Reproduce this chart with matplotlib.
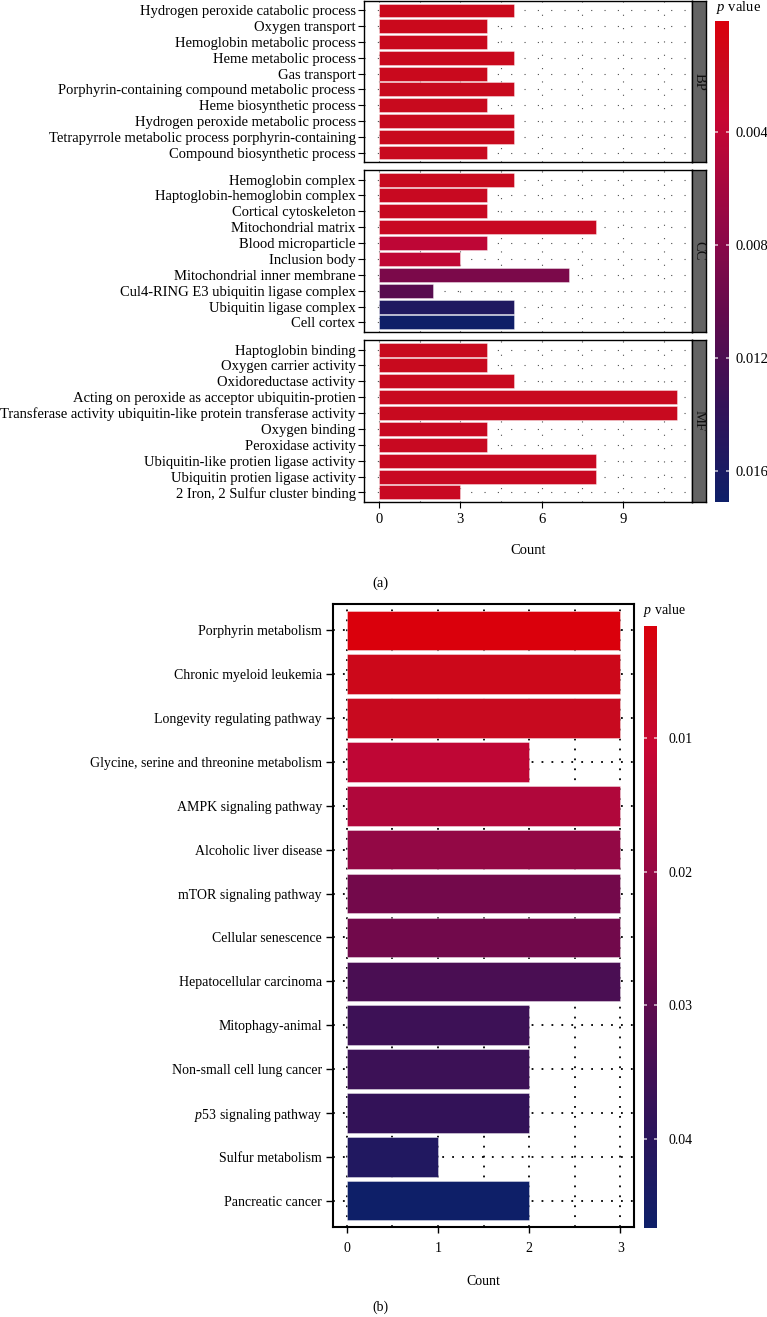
import matplotlib
matplotlib.use("Agg")
import matplotlib.pyplot as plt
from matplotlib.colors import LinearSegmentedColormap, Normalize
from matplotlib.cm import ScalarMappable
from matplotlib.ticker import MultipleLocator, FixedLocator
import numpy as np

plt.rcParams['font.family'] = ['Liberation Serif', 'DejaVu Serif']
plt.rcParams['mathtext.fontset'] = 'custom'
plt.rcParams['mathtext.rm'] = 'Liberation Serif'
plt.rcParams['mathtext.it'] = 'Liberation Serif:italic'

# ---------------- data: panel (a) GO ----------------
bp_terms = ["Hydrogen peroxide catabolic process", "Oxygen transport",
            "Hemoglobin metabolic process", "Heme metabolic process", "Gas transport",
            "Porphyrin-containing compound metabolic process", "Heme biosynthetic process",
            "Hydrogen peroxide metabolic process",
            "Tetrapyrrole metabolic process porphyrin-containing",
            "Compound biosynthetic process"]
bp_count = [5, 4, 4, 5, 4, 5, 4, 5, 5, 4]
bp_p = [0.0016, 0.0016, 0.0017, 0.0017, 0.0017, 0.0018, 0.0018, 0.0018, 0.0018, 0.0019]

cc_terms = ["Hemoglobin complex", "Haptoglobin-hemoglobin complex", "Cortical cytoskeleton",
            "Mitochondrial matrix", "Blood microparticle", "Inclusion body",
            "Mitochondrial inner membrane", "Cul4-RING E3 ubiquitin ligase complex",
            "Ubiquitin ligase complex", "Cell cortex"]
cc_count = [5, 4, 4, 8, 4, 3, 7, 2, 5, 5]
cc_p = [0.0019, 0.0020, 0.0020, 0.0021, 0.0042, 0.0040, 0.0088, 0.0112, 0.0155, 0.0170]

mf_terms = ["Haptoglobin binding", "Oxygen carrier activity", "Oxidoreductase activity",
            "Acting on peroxide as acceptor ubiquitin-protien",
            "Transferase activity ubiquitin-like protein transferase activity",
            "Oxygen binding", "Peroxidase activity", "Ubiquitin-like protien ligase activity",
            "Ubiquitin protien ligase activity", "2 Iron, 2 Sulfur cluster binding"]
mf_count = [4, 4, 5, 11, 11, 4, 4, 8, 8, 3]
mf_p = [0.0018, 0.0018, 0.0019, 0.0019, 0.0019, 0.0020, 0.0020, 0.0020, 0.0021, 0.0021]

facet_names = ["BP", "CC", "MF"]
go_ticks = [0, 3, 6, 9]
go_cbar_ticks = [0.004, 0.008, 0.012, 0.016]
go_p_limits = (0.00005, 0.0171)

# ---------------- data: panel (b) KEGG ----------------
kegg_terms = ["Porphyrin metabolism", "Chronic myeloid leukemia", "Longevity regulating pathway",
              "Glycine, serine and threonine metabolism", "AMPK signaling pathway",
              "Alcoholic liver disease", "mTOR signaling pathway", "Cellular senescence",
              "Hepatocellular carcinoma", "Mitophagy-animal", "Non-small cell lung cancer",
              "$p$53 signaling pathway", "Sulfur metabolism", "Pancreatic cancer"]
kegg_count = [3, 3, 3, 2, 3, 3, 3, 3, 3, 2, 2, 2, 1, 2]
kegg_p = [0.0016, 0.0052, 0.0064, 0.0125, 0.0150, 0.0205, 0.0262, 0.0265,
          0.0335, 0.0360, 0.0362, 0.0378, 0.0420, 0.0467]
kegg_ticks = [0, 1, 2, 3]
kegg_cbar_ticks = [0.01, 0.02, 0.03, 0.04]

# ---------------- style ----------------
cmap = LinearSegmentedColormap.from_list(
    "pv", [(0.0, "#da000c"), (0.1, "#c80a1e"), (0.2, "#c80632"), (0.45, "#8c0848"),
           (0.6, "#650a4c"), (0.8, "#341258"), (1.0, "#0e1f68")])

W, H = 767, 1317
fig = plt.figure(figsize=(W / 100, H / 100), dpi=100)


def box(x0, y0, x1, y1):
    return [x0 / W, 1 - y1 / H, (x1 - x0) / W, (y1 - y0) / H]


FS = 10.5
FSB = 10

# ---------------- panel (a) ----------------
norm_a = Normalize(vmin=go_p_limits[0], vmax=go_p_limits[1])
facets = [(bp_terms, bp_count, bp_p), (cc_terms, cc_count, cc_p), (mf_terms, mf_count, mf_p)]
ys = [(1, 162), (170, 332), (340, 502)]
xmax_a = max(bp_count + cc_count + mf_count)
for k, ((terms, counts, pv), (y0, y1)) in enumerate(zip(facets, ys)):
    ax = fig.add_axes(box(364, y0, 692, y1))
    pos = np.arange(len(terms))
    ax.barh(pos, counts, height=0.88, color=cmap(norm_a(np.array(pv))),
            edgecolor=(1, 1, 1, 0.45), linewidth=0.6, zorder=3)
    ax.set_ylim(len(terms) - 0.4, -0.6)
    ax.set_xlim(-0.05 * xmax_a, xmax_a * 1.05)
    ax.set_yticks(pos)
    ax.set_yticklabels(terms, fontsize=FS)
    ax.xaxis.set_major_locator(FixedLocator(go_ticks))
    ax.xaxis.set_minor_locator(MultipleLocator(1.5))
    ax.grid(True, which='both', axis='x', color='0.3', linewidth=0.8,
            linestyle=(0, (1, 11)), zorder=0)
    ax.grid(True, which='major', axis='y', color='0.3', linewidth=0.8,
            linestyle=(0, (1, 11)), zorder=0)
    ax.set_axisbelow(True)
    ax.tick_params(axis='y', length=4, width=0.8, pad=2)
    ax.tick_params(axis='x', which='minor', length=0)
    if k < 2:
        ax.tick_params(axis='x', which='major', length=0, labelbottom=False)
    else:
        ax.tick_params(axis='x', which='major', length=4, width=0.8, labelsize=FS, pad=4)
        ax.set_xlabel("Count", fontsize=FS, labelpad=13)
    for s in ax.spines.values():
        s.set_linewidth(1.0)
    # strip
    sax = fig.add_axes(box(692, y0, 706, y1))
    sax.set_facecolor('#646464')
    sax.set_xticks([])
    sax.set_yticks([])
    for s in sax.spines.values():
        s.set_linewidth(1.0)
    sax.text(0.5, 0.5, facet_names[k], rotation=-90, ha='center', va='center',
             fontsize=FS, color='#111111', transform=sax.transAxes)

cax = fig.add_axes(box(715, 21, 729, 502))
cb = fig.colorbar(ScalarMappable(norm=norm_a, cmap=cmap), cax=cax)
cb.outline.set_visible(False)
cax.invert_yaxis()
cb.set_ticks(go_cbar_ticks)
cb.set_ticklabels([f"{t:g}" for t in go_cbar_ticks])
cax.tick_params(direction='in', color=(1, 1, 1, 0.7), length=2.5, width=1.2,
                labelsize=FS, left=True, right=True, pad=5)
fig.text(716 / W, 1 - 8 / H, "$p$ value", fontsize=FS, ha='left', va='center')
fig.text(380 / W, 1 - 583 / H, "(a)", fontsize=FS, ha='center', va='center')

# ---------------- panel (b) ----------------
norm_b = Normalize(vmin=min(kegg_p), vmax=max(kegg_p))
axb = fig.add_axes(box(333, 604, 634, 1227))
pos = np.arange(len(kegg_terms))
xmax_b = max(kegg_count)
axb.barh(pos, kegg_count, height=0.9, color=cmap(norm_b(np.array(kegg_p))),
         edgecolor=(1, 1, 1, 0.45), linewidth=0.6, zorder=3)
axb.set_ylim(len(kegg_terms) - 0.4, -0.6)
axb.set_xlim(-0.05 * xmax_b, xmax_b * 1.05)
axb.set_yticks(pos)
axb.set_yticklabels(kegg_terms, fontsize=FSB)
axb.xaxis.set_major_locator(FixedLocator(kegg_ticks))
axb.xaxis.set_minor_locator(MultipleLocator(0.5))
axb.grid(True, which='both', axis='x', color='black', linewidth=1.3,
         linestyle=(0, (1, 4.5)), zorder=0)
axb.grid(True, which='major', axis='y', color='black', linewidth=1.3,
         linestyle=(0, (1, 4.5)), zorder=0)
axb.set_axisbelow(True)
axb.tick_params(axis='y', length=5, width=1.0, pad=3)
axb.tick_params(axis='x', which='major', length=4, width=1.0, labelsize=FSB, pad=7)
axb.tick_params(axis='x', which='minor', length=0)
axb.set_xlabel("Count", fontsize=FSB, labelpad=14)
for s in axb.spines.values():
    s.set_linewidth(1.5)

caxb = fig.add_axes(box(644, 626, 657, 1228))
cbb = fig.colorbar(ScalarMappable(norm=norm_b, cmap=cmap), cax=caxb)
cbb.outline.set_visible(False)
caxb.invert_yaxis()
cbb.set_ticks(kegg_cbar_ticks)
cbb.set_ticklabels([f"{t:g}" for t in kegg_cbar_ticks])
caxb.tick_params(direction='in', color=(1, 1, 1, 0.7), length=2.5, width=1.2,
                 labelsize=FSB, left=True, right=True, pad=8)
fig.text(643 / W, 1 - 611 / H, "$p$ value", fontsize=FSB, ha='left', va='center')
fig.text(380 / W, 1 - 1307 / H, "(b)", fontsize=FSB, ha='center', va='center')

fig.savefig("out.png", dpi=100)
